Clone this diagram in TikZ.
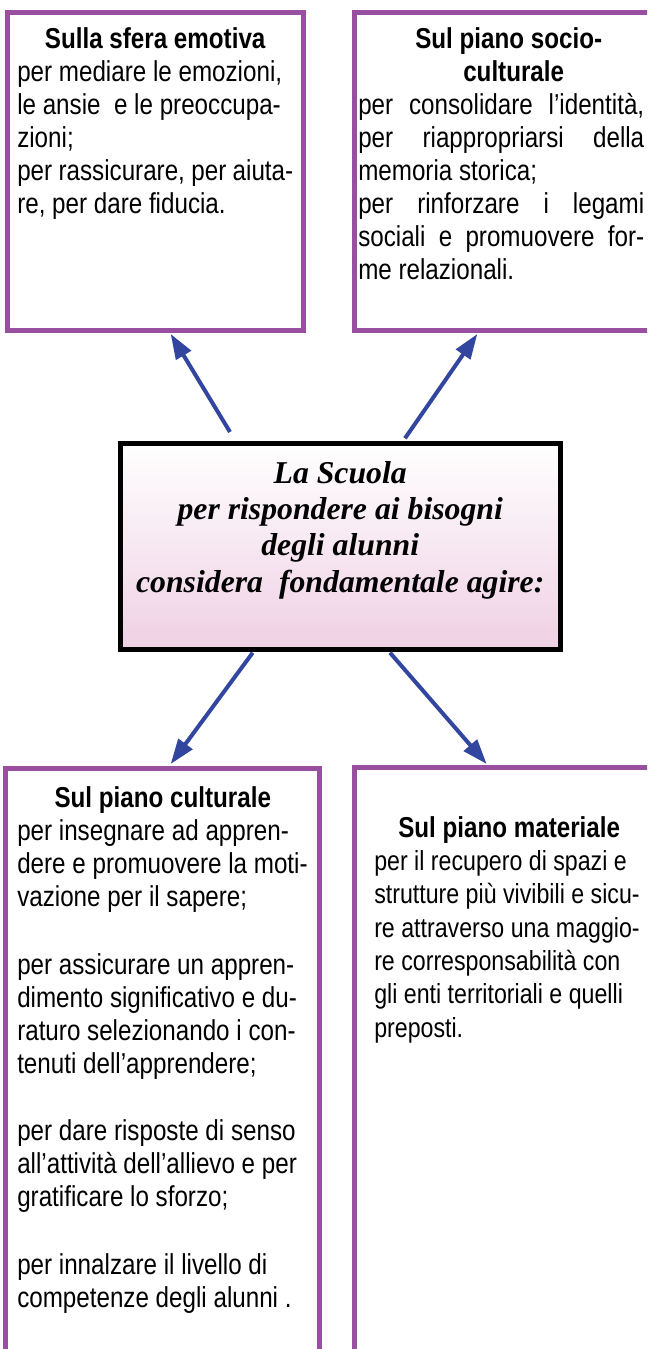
\documentclass[tikz,border=0pt]{standalone}
\usepackage{fontspec}
\setmainfont[FakeStretch=0.84]{Liberation Sans}
\newfontfamily\serifbi{Liberation Serif}
\usetikzlibrary{arrows.meta}

\definecolor{viola}{RGB}{153,79,159}
\definecolor{blu}{RGB}{50,70,160}
\definecolor{rosa}{RGB}{239,208,228}

\tikzset{
  riquadro/.style={draw=viola, line width=3.75pt, rectangle, inner sep=0pt},
  centrale/.style={draw=black, line width=3.75pt, rectangle, inner sep=0pt, top color=white, bottom color=rosa},
  freccia/.style={draw=blu, line width=3pt, -{Triangle[length=18.75pt,width=12.75pt]}},
  testo/.style={anchor=base west, inner sep=0pt, font=\fontsize{21.6}{24.75}\selectfont},
}

\begin{document}
\begin{tikzpicture}[x=0.75pt,y=0.75pt,yscale=-1,xscale=1]
	\useasboundingbox (0,0) rectangle (647,1349);
	\clip (0,0) rectangle (647,1349);
	
	%Shape: Rectangle [id:emotiva] 
	\node[riquadro, minimum width=222.375pt, minimum height=238.875pt] (emotiva) at (155.25,171.25) {};
	%Shape: Rectangle [id:socio] 
	\node[riquadro, minimum width=259.125pt, minimum height=238.875pt] (socio) at (527.25,171.25) {};
	%Shape: Rectangle [id:scuola] 
	\node[centrale, minimum width=330.375pt, minimum height=154.5pt] (scuola) at (340.25,546) {};
	%Shape: Rectangle [id:culturale] 
	\node[riquadro, minimum width=235.5pt, minimum height=473.625pt] (culturale) at (162.5,1084.25) {};
	%Shape: Rectangle [id:materiale] 
	\node[riquadro, minimum width=259.5pt, minimum height=474.375pt] (materiale) at (527,1083.75) {};
	
	%Arrow ends
	\coordinate (da-emo) at (230,432);
	\coordinate (a-emo) at (170.7,334);
	\coordinate (da-soc) at (405,438.3);
	\coordinate (a-soc) at (477.3,334);
	\coordinate (da-cul) at (252.7,652.7);
	\coordinate (a-cul) at (170.7,764);
	\coordinate (da-mat) at (390,652.7);
	\coordinate (a-mat) at (486.7,764);
	
	%Straight Lines
	\draw[freccia] (da-emo) -- (a-emo);
	\draw[freccia] (da-soc) -- (a-soc);
	\draw[freccia] (da-cul) -- (a-cul);
	\draw[freccia] (da-mat) -- (a-mat);
	
	% Text Node
	\node[testo] (t-emo) at (17,48) {\begin{minipage}[t]{207pt}\setlength{\parskip}{0pt}
	{\centering\textbf{Sulla sfera emotiva}\par}
	\raggedright
	per mediare le emozioni,\\
	le ansie\ \ e le preoccupa-\\
	zioni;\\
	per rassicurare, per aiuta-\\
	re, per dare fiducia.
	\end{minipage}};
	% Text Node
	\node[testo] (t-soc) at (358,48) {\begin{minipage}[t]{214.5pt}\setlength{\parskip}{0pt}
	\hspace*{42.75pt}\textbf{Sul piano socio-}\\
	\hspace*{78.75pt}\textbf{culturale}\\
	\makebox[\linewidth][s]{per consolidare l’identità,}\\
	\makebox[\linewidth][s]{per riappropriarsi della}\\
	memoria storica;\\
	\makebox[\linewidth][s]{per rinforzare i legami}\\
	\makebox[\linewidth][s]{sociali e promuovere for-}\\
	me relazionali.
	\end{minipage}};
	% Text Node
	\node[anchor=base, inner sep=0pt, font=\serifbi\bfseries\itshape\fontsize{23.8}{27.25}\selectfont] (t-scuola) at (340.25,483) {\begin{minipage}[t]{330pt}\centering
	La Scuola\\
	per rispondere ai bisogni\\
	degli alunni\\
	considera\hspace{12pt}fondamentale agire:
	\end{minipage}};
	% Text Node
	\node[testo] (t-cul) at (17,807) {\begin{minipage}[t]{218.25pt}\setlength{\parskip}{0pt}
	{\centering\textbf{Sul piano culturale}\par}
	\raggedright
	per insegnare ad appren-\\
	dere e promuovere la moti-\\
	vazione per il sapere;\\[26.25pt]
	per assicurare un appren-\\
	dimento significativo e du-\\
	raturo selezionando i con-\\
	tenuti dell’apprendere;\\[25.5pt]
	per dare risposte di senso\\
	all’attività dell’allievo e per\\
	gratificare lo sforzo;\\[26.25pt]
	per innalzare il livello di\\
	competenze degli alunni .
	\end{minipage}};
	% Text Node
	\node[testo, font=\fontsize{20.7}{25}\selectfont] (t-mat) at (374,837) {\begin{minipage}[t]{250pt}\setlength{\parskip}{0pt}
	\raggedright
	\hspace*{18pt}{\fontsize{21.6}{25}\selectfont\textbf{Sul piano materiale}}\\
	per il recupero di spazi e\\
	strutture più vivibili e sicu-\\
	re attraverso una maggio-\\
	re corresponsabilità con\\
	gli enti territoriali e quelli\\
	preposti.
	\end{minipage}};
	
\end{tikzpicture}
\end{document}
